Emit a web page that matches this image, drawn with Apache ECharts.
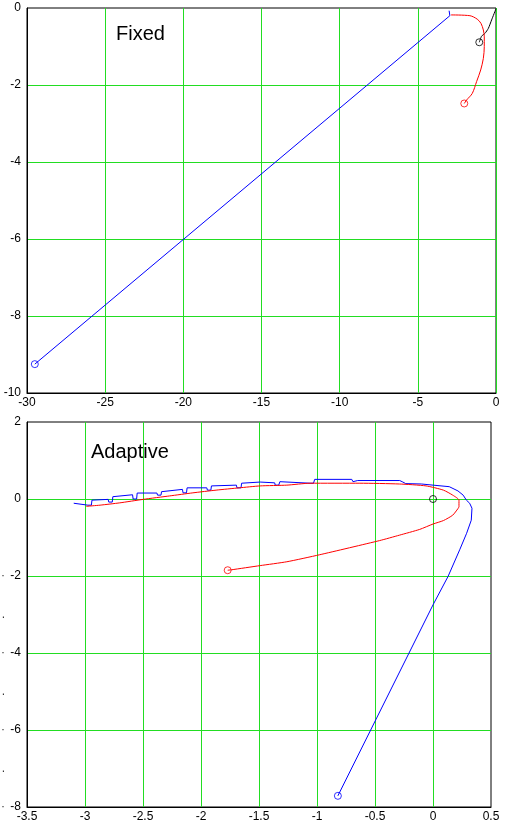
<!DOCTYPE html>
<html>
<head>
<meta charset="utf-8">
<script src="https://cdn.jsdelivr.net/npm/echarts@6/dist/echarts.min.js"></script>
<style>
html,body{margin:0;padding:0;background:#fff;}
#c{width:507px;height:827px;}
</style>
</head>
<body>
<div id="c"></div>
<script>
// ---- Fixed (top panel) ----
var fixedXTicks = [-30, -25, -20, -15, -10, -5, 0];
var fixedYTicks = [0, -2, -4, -6, -8, -10];
var fixedBlue = [[-29.5,-9.25],[-2.95,-0.2],[-2.88,-0.16],[-3.0,-0.07]];
var fixedRed = [[-2.03,-2.48],[-1.88,-2.39],[-1.52,-2.22],[-1.24,-1.91],[-0.98,-1.61],[-0.81,-1.31],[-0.75,-1.0],[-0.75,-0.75],[-0.81,-0.57],[-0.96,-0.40],[-1.20,-0.29],[-1.67,-0.20],[-2.88,-0.18]];
var fixedBlack = [[-1.07,-0.89],[-0.92,-0.73],[-0.71,-0.66],[-0.49,-0.53],[-0.28,-0.31],[0,-0.02]];
var fixedStartBlue = [[-29.5,-9.25]];
var fixedStartRed = [[-2.03,-2.48]];
var fixedStartBlack = [[-1.07,-0.89]];

// ---- Adaptive (bottom panel) ----
var adaptXTicks = [-3.5, -3, -2.5, -2, -1.5, -1, -0.5, 0, 0.5];
var adaptYTicks = [2, 0, -2, -4, -6, -8];
var adaptBlue = [[-0.82,-7.71],[0.0,-2.75],[0.13,-2.01],[0.23,-1.32],[0.29,-0.89],[0.33,-0.55],[0.336,-0.24],[0.316,-0.11],[0.288,-0.03],[0.26,0.10],[0.215,0.21],[0.14,0.32],[0.0,0.36],[-0.1,0.39],[-0.235,0.40],[-0.26,0.44],[-0.287,0.48],[-0.649,0.48],
 [-0.66,0.45],[-0.69,0.45],[-0.70,0.51],[-1.02,0.51],
 [-1.03,0.41],[-1.06,0.41],[-1.065,0.45],[-1.32,0.45],
 [-1.33,0.36],[-1.36,0.36],[-1.365,0.42],[-1.49,0.44],[-1.50,0.41],[-1.65,0.41],
 [-1.655,0.29],[-1.69,0.29],[-1.695,0.36],[-1.91,0.34],
 [-1.915,0.23],[-1.945,0.23],[-1.95,0.29],[-2.12,0.29],
 [-2.125,0.16],[-2.155,0.16],[-2.16,0.25],[-2.34,0.19],
 [-2.345,0.10],[-2.375,0.10],[-2.38,0.155],[-2.55,0.155],
 [-2.555,0.0],[-2.585,0.0],[-2.59,0.11],[-2.76,0.06],
 [-2.765,-0.08],[-2.795,-0.08],[-2.80,-0.01],[-2.94,-0.03],
 [-2.945,-0.16],[-2.975,-0.16],[-2.98,-0.11],[-3.097,-0.11]];
var adaptRed = [[-1.77,-1.85],[-1.74,-1.84],[-1.49,-1.73],[-1.26,-1.63],[-0.98,-1.45],[-0.46,-1.08],[-0.29,-0.94],[-0.115,-0.79],[0,-0.65],[0.09,-0.56],[0.17,-0.42],[0.215,-0.25],[0.224,-0.2],[0.224,-0.03],[0.17,0.10],[0.09,0.23],[-0.06,0.34],[-0.29,0.39],[-0.63,0.41],[-1.06,0.41],[-1.26,0.36],[-1.49,0.34],[-1.67,0.29],[-1.87,0.23],[-2.07,0.16],[-2.27,0.08],[-2.5,-0.01],[-2.70,-0.10],[-2.87,-0.16],[-2.99,-0.19]];
var adaptStartBlue = [[-0.82,-7.71]];
var adaptStartRed = [[-1.77,-1.85]];
var adaptStartBlack = [[0,0]];
var adaptDotTicks = [-2,-3,-4,-5,-6,-7,-8];

var FONT = '"Liberation Sans", Arial, sans-serif';
var GREEN = '#22dd22';

function xAxisCfg(gi, ticks, step) {
  return {
    type: 'value', gridIndex: gi, min: ticks[0], max: ticks[ticks.length-1], interval: step,
    axisLine: {show: true, onZero: false, lineStyle: {color: '#000', width: 1}},
    axisTick: {show: false},
    axisLabel: {color: '#000', fontSize: 12, fontFamily: FONT, margin: 4, showMinLabel: true, showMaxLabel: true},
    splitLine: {show: true, lineStyle: {color: GREEN, width: 1}, showMinLine: false, showMaxLine: gi === 0}
  };
}
function yAxisCfg(gi, ticks, step) {
  return {
    type: 'value', gridIndex: gi, min: ticks[ticks.length-1], max: ticks[0], interval: step,
    axisLine: {show: true, onZero: false, lineStyle: {color: '#000', width: 1}},
    axisTick: {show: false},
    axisLabel: {color: '#000', fontSize: 12, fontFamily: FONT, margin: 6, showMinLabel: true, showMaxLabel: true},
    splitLine: {show: true, lineStyle: {color: GREEN, width: 1}, showMinLine: false, showMaxLine: false}
  };
}
function lineS(gi, data, color, smooth) {
  return {type: 'line', xAxisIndex: gi, yAxisIndex: gi, data: data, showSymbol: false, symbol: 'none',
    smooth: smooth || false,
    lineStyle: {color: color, width: 1}, itemStyle: {color: color}, animation: false, z: 3};
}
function startS(gi, data, color) {
  return {type: 'scatter', xAxisIndex: gi, yAxisIndex: gi, data: data, symbol: 'circle', symbolSize: 7,
    itemStyle: {color: 'rgba(0,0,0,0)', borderColor: color, borderWidth: 1}, animation: false, z: 4};
}

var dotAxis = {
  type: 'value', gridIndex: 1, min: -8, max: 2, interval: 1, position: 'left',
  axisLine: {show: false}, axisTick: {show: false}, splitLine: {show: false},
  axisLabel: {color: '#333', fontSize: 12, fontFamily: FONT, margin: 22,
    formatter: function (v) { return adaptDotTicks.indexOf(v) >= 0 ? (v % 2 === 0 ? '\u00b7' : '.') : ''; }}
};

var chart = echarts.init(document.getElementById('c'), null, {renderer: 'canvas'});
chart.setOption({
  animation: false,
  backgroundColor: '#fff',
  title: [
    {text: 'Fixed', left: 116, top: 24, padding: 0, textStyle: {fontSize: 20, fontWeight: 'normal', fontFamily: FONT, color: '#000'}},
    {text: 'Adaptive', left: 91, top: 442, padding: 0, textStyle: {fontSize: 20, fontWeight: 'normal', fontFamily: FONT, color: '#000'}}
  ],
  grid: [
    {left: 27, top: 8, width: 469, height: 385, show: true, borderColor: '#000', borderWidth: 1, backgroundColor: 'transparent', containLabel: false, outerBoundsMode: 'none'},
    {left: 27, top: 422, width: 464, height: 385, show: true, borderColor: '#000', borderWidth: 1, backgroundColor: 'transparent', containLabel: false, outerBoundsMode: 'none'}
  ],
  xAxis: [xAxisCfg(0, fixedXTicks, 5), xAxisCfg(1, adaptXTicks, 0.5)],
  yAxis: [yAxisCfg(0, fixedYTicks, 2), yAxisCfg(1, adaptYTicks, 2), dotAxis],
  series: [
    lineS(0, fixedBlue, '#0000ff'),
    lineS(0, fixedBlack, '#000000', 0.2),
    lineS(0, fixedRed, '#ff0000', 0.3),
    startS(0, fixedStartBlue, '#0000ff'),
    startS(0, fixedStartRed, '#ff0000'),
    startS(0, fixedStartBlack, '#000000'),
    lineS(1, adaptBlue, '#0000ff'),
    lineS(1, adaptRed, '#ff0000', 0.2),
    startS(1, adaptStartBlue, '#0000ff'),
    startS(1, adaptStartRed, '#ff0000'),
    startS(1, adaptStartBlack, '#000000')
  ]
});
</script>
</body>
</html>
